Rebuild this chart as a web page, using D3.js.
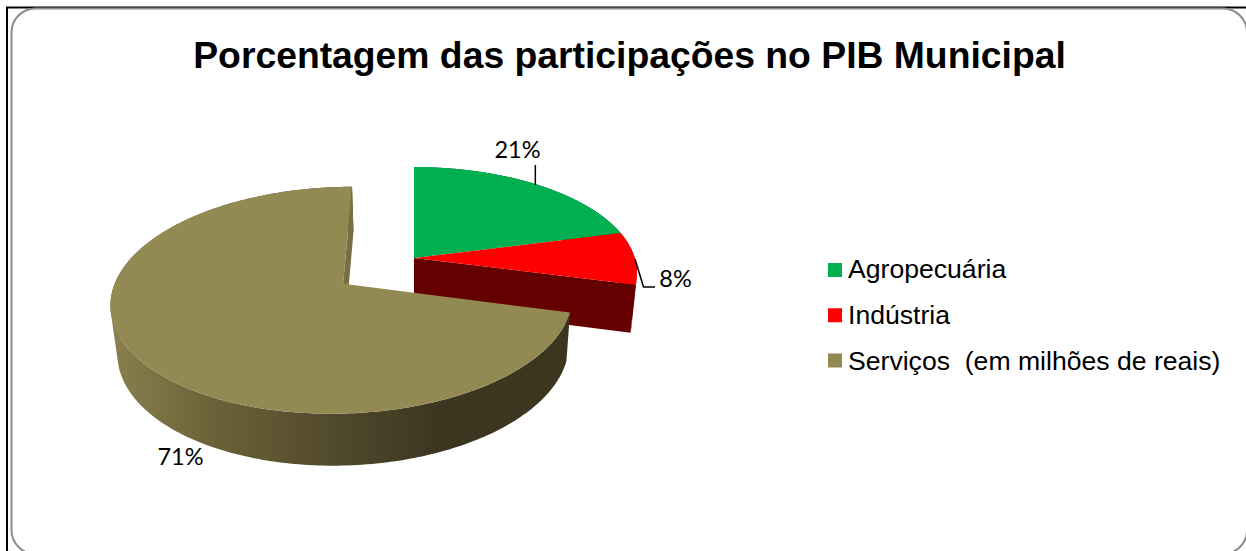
<!DOCTYPE html>
<html><head><meta charset="utf-8">
<script src="https://cdn.jsdelivr.net/npm/d3@7"></script>
<style>html,body{margin:0;padding:0;background:#fff}svg{display:block}</style>
</head><body><svg id="c" width="1246" height="551"></svg>
<script>
const titleText = "Porcentagem das participações no PIB Municipal";
const categories = ["Agropecuária", "Indústria", "Serviços  (em milhões de reais)"];
const values = [21, 8, 71];
const labels = ["21%", "8%", "71%"];
const colors = ["#00B050", "#FF0000", "#938953"];
const wallColors = ["#005828", "#640000", null];

const W = 1246, H = 551;
const svg = d3.select("#c");

const pie = d3.pie().sort(null).value(d => d);
const arcs = pie(values);

// perspective camera
const vx = 414, vy = -483, F = 741, G = 1577, r = 0.14, explode = [0, 0, 0.055];
const project = (X, Z) => ({x: vx + X * G / (1 + Z), y: vy + F / (1 + Z)});
const lower = p => ({x: vx + (p.x - vx) * 0.977, y: p.y + 48 + (p.y - 284) * 0.03});
const offsetOf = (a, i) => {
  const m = (a.startAngle + a.endAngle) / 2;
  return {X: explode[i] * Math.sin(m), Z: explode[i] * Math.cos(m)};
};
const rim = (a, i, t) => {
  const o = offsetOf(a, i);
  return project(o.X + r * Math.sin(t), o.Z + r * Math.cos(t));
};
const apex = (a, i) => { const o = offsetOf(a, i); return project(o.X, o.Z); };
const rimPts = (a, i) => d3.range(0, 241).map(k => rim(a, i, a.startAngle + (a.endAngle - a.startAngle) * k / 240));
const line = d3.line().x(p => p.x).y(p => p.y);
const closed = pts => line(pts) + "Z";
// side wall built from strips of equal orientation, so the silhouette stays filled
const wallPath = pts => d3.pairs(pts).map(([p, q]) => {
  const quad = [p, q, lower(q), lower(p)];
  return closed(d3.polygonArea(quad.map(c => [c.x, c.y])) < 0 ? quad.reverse() : quad);
}).join("");

const defs = svg.append("defs");
const wallGrad = defs.append("linearGradient").attr("id", "wall").attr("gradientUnits", "userSpaceOnUse")
  .attr("x1", 112).attr("x2", 440).attr("y1", 0).attr("y2", 0);
[[0, "#8a7f4e"], [0.3, "#6c6239"], [0.7, "#4f482b"], [1, "#3c3621"]].forEach(s =>
  wallGrad.append("stop").attr("offset", s[0]).attr("stop-color", s[1]));

// frame
svg.append("path").attr("fill", "none").attr("stroke", "#000").attr("stroke-width", 2)
  .attr("d", `M7 ${H}V7.5H${W}`);
svg.append("rect").attr("x", 11.5).attr("y", 8.5).attr("width", 1235.5).attr("height", 545.5).attr("rx", 24)
  .attr("fill", "#fff").attr("stroke", "#8c8c8c").attr("stroke-width", 2);

const g = svg.append("g");

// Rear slices: walls, cut face, then tops
[0, 1].forEach(i => {
  g.append("path").attr("d", wallPath(rimPts(arcs[i], i))).attr("fill", wallColors[i]);
});
{
  const a = arcs[1], ap = apex(a, 1), e = rim(a, 1, a.endAngle);
  g.append("path").attr("d", closed([ap, e, lower(e), lower(ap)])).attr("fill", wallColors[1]);
}
[0, 1].forEach(i => {
  const a = arcs[i];
  g.append("path").attr("d", closed([apex(a, i), ...rimPts(a, i)])).attr("fill", colors[i]);
});

// Front slice
{
  const a = arcs[2], pts = rimPts(a, 2), ap = apex(a, 2), e = rim(a, 2, a.endAngle);
  g.append("path").attr("d", wallPath(pts)).attr("fill", "url(#wall)");
  g.append("path").attr("d", closed([ap, e, lower(e), lower(ap)])).attr("fill", "#7a6f43");
  g.append("path").attr("d", closed([ap, ...pts])).attr("fill", colors[2]);
}

// leader lines
const leaderA = rim(arcs[0], 0, (arcs[0].startAngle + arcs[0].endAngle) / 2);
svg.append("path").attr("fill", "none").attr("stroke", "#000").attr("stroke-width", 1.5)
  .attr("d", line([{x: leaderA.x - 0.5, y: 165}, {x: leaderA.x - 0.5, y: 185}]));
svg.append("path").attr("fill", "none").attr("stroke", "#000").attr("stroke-width", 1.5)
  .attr("d", line([{x: 635, y: 259}, {x: 643.5, y: 287}, {x: 655, y: 287}]));

// data labels
const labelPos = [[517.5, 158], [675.5, 287], [180.5, 465]];
svg.selectAll("text.lab").data(labels).join("text").attr("class", "lab")
  .attr("x", (d, i) => labelPos[i][0]).attr("y", (d, i) => labelPos[i][1])
  .attr("text-anchor", "middle").attr("font-family", "Lato").attr("font-size", 23.5).attr("fill", "#000")
  .text(d => d);

// title
svg.append("text").attr("x", 629.5).attr("y", 68).attr("text-anchor", "middle")
  .attr("font-family", "Liberation Sans").attr("font-weight", "bold").attr("font-size", 37.3).text(titleText);

// legend
const swatchY = d3.scalePoint().domain(categories).range([270, 360.5]);
const textY = d3.scalePoint().domain(categories).range([277.5, 369.5]);
const leg = svg.selectAll("g.leg").data(categories).join("g").attr("class", "leg");
leg.append("rect").attr("x", 828).attr("y", d => swatchY(d) - 7).attr("width", 14).attr("height", 14).attr("fill", (d, i) => colors[i]);
leg.append("text").attr("x", 848).attr("y", d => textY(d)).attr("font-family", "Liberation Sans").attr("font-size", 26.6)
  .style("white-space", "pre").text(d => d);
</script></body></html>
